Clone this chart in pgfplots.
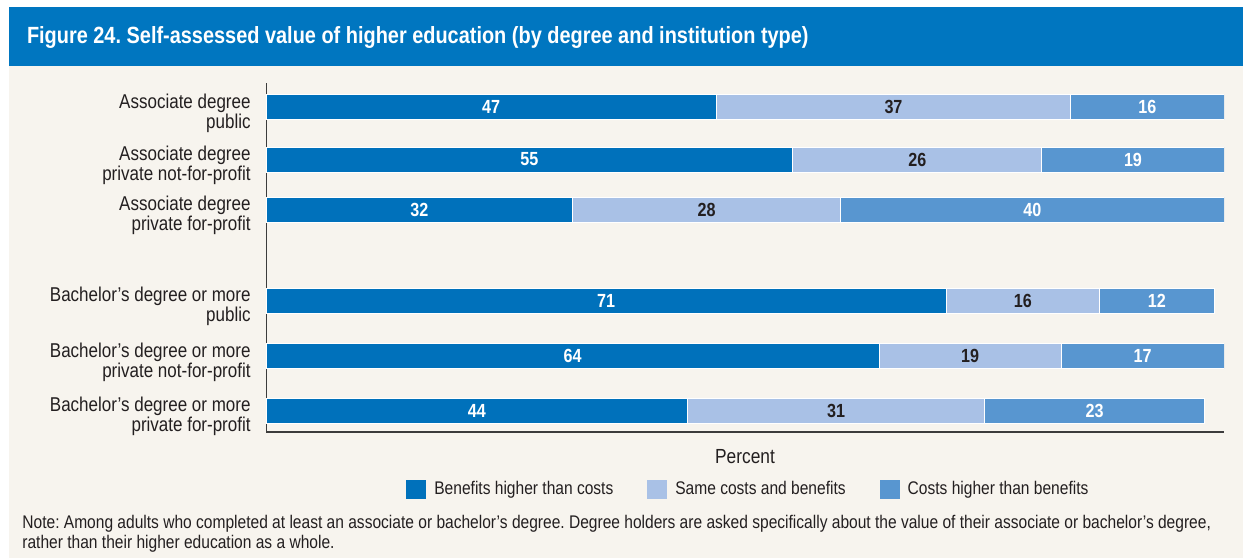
\documentclass[border=0pt]{standalone}
\usepackage{fontspec}
\setmainfont{Liberation Sans}[FakeStretch=0.85]
\usepackage{pgfplots}
\pgfplotsset{compat=1.18}
\definecolor{titlebg}{RGB}{0,118,192}
\definecolor{pagebg}{RGB}{247,244,238}
\definecolor{cdark}{RGB}{0,113,187}
\definecolor{clight}{RGB}{169,193,230}
\definecolor{cmid}{RGB}{88,150,208}
\definecolor{txt}{RGB}{35,31,32}
\definecolor{axisgray}{RGB}{60,60,60}
\frenchspacing
\pgfplotsset{
  common/.style={at={(133pt,-216pt)}, anchor=south west,
    scale only axis, width=479pt, height=174.5pt,
    xmin=0, xmax=100, ymin=0, ymax=349},
}
\begin{document}
\begin{tikzpicture}[x=1pt,y=1pt]
\useasboundingbox (0,0) rectangle (621.5,-279);
\fill[white] (0,0) rectangle (621.5,-279);
\fill[pagebg] (4.5,-33) rectangle (621.5,-279);
\fill[titlebg] (4.5,-3.6) rectangle (621.5,-33);
\node[anchor=base west, inner sep=0pt, text=white, font=\bfseries\fontsize{11.72}{14}\selectfont] at (13.3,-21.7) {Figure 24. Self-assessed value of higher education (by degree and institution type)};
\begin{axis}[
  common,
  xbar stacked, bar width=25,
  axis x line*=bottom, axis y line*=left,
  axis line style={-, draw=axisgray},
  x axis line style={line width=0.9pt},
  y axis line style={line width=0.5pt},
  xtick=\empty,
  ytick={21.5,76,131.5,222.5,272.5,325},
  yticklabels={{Bachelor’s degree or more\\private for-profit},
               {Bachelor’s degree or more\\private not-for-profit},
               {Bachelor’s degree or more\\public},
               {Associate degree\\private for-profit},
               {Associate degree\\private not-for-profit},
               {Associate degree\\public}},
  yticklabel style={align=right, inner sep=0pt, xshift=-7.5pt, yshift=-3pt, text=txt, font=\fontsize{10}{10}\selectfont},
  major tick length=0pt,
  xlabel={Percent},
  xlabel style={at={(axis description cs:0.5,-0.0716)}, anchor=center, text=txt, font=\fontsize{10.2}{12}\selectfont},
  legend columns=3,
  legend cell align=left,
  legend style={at={(0.1461,-0.1633)}, anchor=west, draw=none, fill=none, inner sep=0pt, text=txt,
    font=\fontsize{9.15}{11}\selectfont, column sep=4pt,
    /tikz/every even column/.append style={column sep=17pt}, nodes={inner sep=0pt}},
]
\addplot[fill=cdark, draw=white, line width=0.5pt,
  legend image code/.code={\fill[cdark] (0pt,-4.5pt) rectangle (9.5pt,4.5pt);}]
  coordinates {(47,325) (55,272.5) (32,222.5) (71,131.5) (64,76) (44,21.5)};
\addlegendentry{Benefits higher than costs}
\addplot[fill=clight, draw=white, line width=0.5pt,
  legend image code/.code={\fill[clight] (0pt,-4.5pt) rectangle (9.5pt,4.5pt);}]
  coordinates {(37,325) (26,272.5) (28,222.5) (16,131.5) (19,76) (31,21.5)};
\addlegendentry{Same costs and benefits}
\addplot[fill=cmid, draw=white, line width=0.5pt,
  legend image code/.code={\fill[cmid] (0pt,-4.5pt) rectangle (9.5pt,4.5pt);}]
  coordinates {(16,325) (19,272.5) (40,222.5) (12,131.5) (17,76) (23,21.5)};
\addlegendentry{Costs higher than benefits}
\end{axis}
% value labels at segment centres
\begin{axis}[
  common, hide axis,
  nodes near coords, point meta=explicit symbolic,
  every node near coord/.append style={anchor=center, inner sep=0pt, font=\bfseries\fontsize{9.5}{10}\selectfont},
]
\addplot[draw=none, mark=none, every node near coord/.append style={text=white}]
  coordinates {(23.5,325)[47] (27.5,272.5)[55] (16,222.5)[32] (35.5,131.5)[71] (32,76)[64] (22,21.5)[44]};
\addplot[draw=none, mark=none, every node near coord/.append style={text=txt}]
  coordinates {(65.5,325)[37] (68,272.5)[26] (46,222.5)[28] (79,131.5)[16] (73.5,76)[19] (59.5,21.5)[31]};
\addplot[draw=none, mark=none, every node near coord/.append style={text=white}]
  coordinates {(92,325)[16] (90.5,272.5)[19] (80,222.5)[40] (93,131.5)[12] (91.5,76)[17] (86.5,21.5)[23]};
\end{axis}
\node[anchor=base west, inner sep=0pt, text=txt, font=\fontsize{9.15}{10}\selectfont] at (11,-264) {Note: Among adults who completed at least an associate or bachelor’s degree. Degree holders are asked specifically about the value of their associate or bachelor’s degree,};
\node[anchor=base west, inner sep=0pt, text=txt, font=\fontsize{9.15}{10}\selectfont] at (11,-274) {rather than their higher education as a whole.};
\end{tikzpicture}
\end{document}
